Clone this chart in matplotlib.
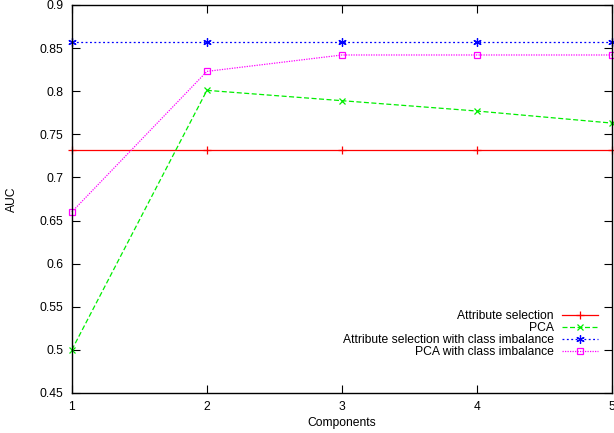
import matplotlib.pyplot as plt

plt.rcParams['font.family'] = ['Liberation Sans', 'DejaVu Sans']

components = [1, 2, 3, 4, 5]
attr_sel = [0.732, 0.732, 0.732, 0.732, 0.732]
pca = [0.500, 0.801, 0.789, 0.777, 0.763]
attr_sel_imb = [0.857, 0.857, 0.857, 0.857, 0.857]
pca_imb = [0.660, 0.823, 0.842, 0.842, 0.842]

yticks = [0.45, 0.5, 0.55, 0.6, 0.65, 0.7, 0.75, 0.8, 0.85, 0.9]


def main():
    fig = plt.figure(figsize=(6.14, 4.33), dpi=100)
    ax = fig.add_axes([0.117, 0.0924, 0.880, 0.8961])

    ax.plot(components, attr_sel, color='#ff0000', lw=0.9, ls='-',
            marker='+', ms=6, mew=0.9, label='Attribute selection', clip_on=False)
    ax.plot(components, pca, color='#00ee00', lw=0.9, ls=(0, (4, 2)),
            marker='x', ms=5, mew=0.9, label='PCA', clip_on=False)
    ax.plot(components, attr_sel_imb, color='#0000ff', lw=0.9, ls=(0, (1.5, 2)),
            marker=(6, 2, 0), ms=6, mew=0.9, label='Attribute selection with class imbalance',
            clip_on=False)
    ax.plot(components, pca_imb, color='#ff00ff', lw=0.9, ls=(0, (1, 1)),
            marker='s', ms=5, mew=0.9, mfc='none', label='PCA with class imbalance',
            clip_on=False)

    ax.set_xlim(1, 5)
    ax.set_ylim(0.45, 0.9)
    ax.set_xticks(components)
    ax.set_yticks(yticks)
    ax.set_yticklabels(['{:g}'.format(v) for v in yticks])
    ax.tick_params(direction='in', length=6, width=0.8, top=True, right=True,
                   labelsize=8.7, pad=6)
    for sp in ax.spines.values():
        sp.set_linewidth(1.0)

    ax.set_xlabel('Components', fontsize=8.7, labelpad=3)
    ax.set_ylabel('AUC', fontsize=8.7, labelpad=16)

    ax.legend(loc='lower right', bbox_to_anchor=(0.974, 0.09), frameon=False,
              markerfirst=False, fontsize=8.7, handlelength=3.0, labelspacing=0.0,
              borderpad=0, borderaxespad=0, handletextpad=0.66)

    fig.savefig('out.png', dpi=100)


if __name__ == '__main__':
    main()
